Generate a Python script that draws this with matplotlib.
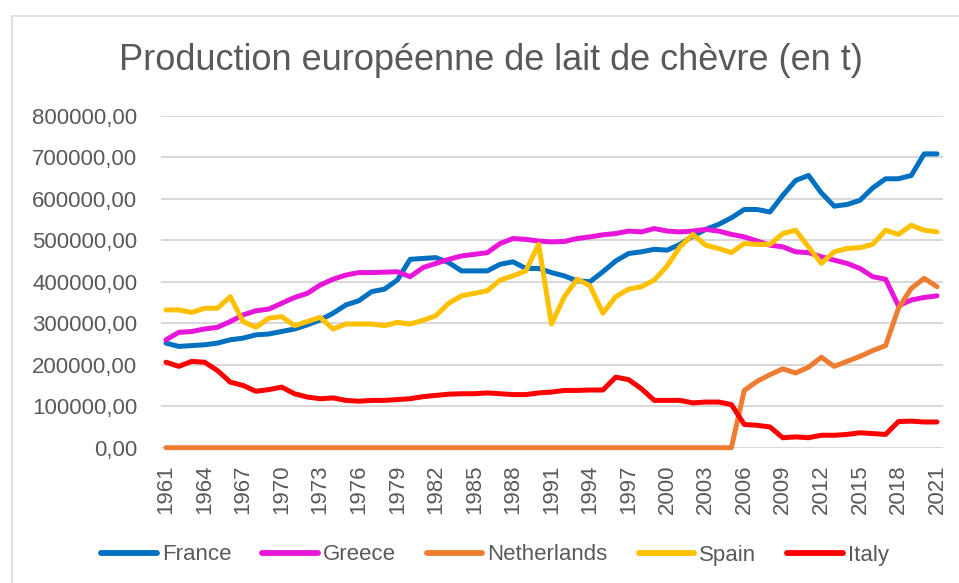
import numpy as np
import matplotlib
matplotlib.use("Agg")
import matplotlib.pyplot as plt
from matplotlib.patches import Rectangle
from matplotlib.ticker import FuncFormatter

plt.rcParams['font.family'] = ['Liberation Sans', 'DejaVu Sans']

years = list(range(1961, 2022))

# valeurs en milliers de tonnes
france = [252, 244, 246, 248, 252, 260, 264, 272, 274, 280,
          286, 296, 308, 324, 344, 354, 376, 382, 404, 454,
          456, 458, 446, 426, 426, 426, 442, 448, 432, 432,
          422, 414, 402, 400, 424, 450, 468, 472, 478, 476,
          490, 510, 526, 538, 554, 574, 574, 568, 608, 644,
          656, 614, 582, 586, 596, 626, 648, 648, 656, 708, 708]
greece = [260, 278, 280, 286, 290, 304, 320, 330, 334, 348,
          362, 372, 392, 406, 416, 422, 422, 423, 424, 412,
          434, 444, 454, 462, 466, 470, 492, 504, 502, 498,
          496, 497, 504, 508, 513, 516, 522, 520, 528, 522,
          520, 522, 526, 522, 514, 508, 498, 488, 484, 472,
          470, 460, 452, 444, 432, 412, 406, 342, 356, 362, 366]
netherlands = [0] * 45 + [138, 160, 176, 190, 180, 194, 218, 196, 208, 220,
                          234, 246, 336, 384, 408, 388]
spain = [332, 332, 326, 336, 336, 364, 304, 290, 312, 316,
         294, 304, 314, 286, 298, 298, 298, 294, 302, 298,
         307, 318, 348, 366, 372, 378, 404, 414, 426, 490,
         298, 364, 406, 390, 324, 364, 382, 388, 404, 438,
         484, 514, 488, 480, 470, 492, 490, 490, 516, 524,
         484, 444, 472, 480, 482, 490, 524, 514, 536, 524, 520]
italy = [206, 196, 208, 206, 186, 158, 150, 136, 140, 146,
         130, 122, 118, 120, 114, 112, 114, 114, 116, 118,
         123, 126, 129, 130, 130, 132, 130, 128, 128, 132,
         134, 138, 138, 139, 139, 170, 164, 142, 114, 114,
         114, 108, 110, 110, 104, 56, 54, 50, 24, 26,
         24, 30, 30, 32, 36, 34, 32, 63, 64, 62, 62]

series = [("France", france, "#0070C0"),
          ("Greece", greece, "#E815DA"),
          ("Netherlands", netherlands, "#ED7D31"),
          ("Spain", spain, "#FFC000"),
          ("Italy", italy, "#FF0000")]

W, H = 959, 583
fig = plt.figure(figsize=(W / 100, H / 100), dpi=100)
ax = fig.add_axes([161 / W, 1 - 447.7 / H, (943 - 161) / W, (447.7 - 115.7) / H])

txt = "#595959"
grid = "#D9D9D9"

for name, vals, col in series:
    ax.plot(years, np.array(vals) * 1000, color=col, lw=3.6, label=name,
            solid_capstyle="round", solid_joinstyle="round", clip_on=False)

ax.set_xlim(1961 - 5 / 12.85, 2021 + 6 / 12.85)
ax.set_ylim(0, 800000)
ax.set_yticks(np.arange(0, 800001, 100000))
ax.yaxis.set_major_formatter(FuncFormatter(lambda v, p: f"{v:.2f}".replace(".", ",")))
ax.set_xticks(years[::3])
ax.set_xticklabels([str(y) for y in years[::3]], rotation=90)
ax.grid(axis="y", color=grid, lw=1.5)
ax.set_axisbelow(True)
for s in ax.spines.values():
    s.set_visible(False)
ax.tick_params(axis="both", length=0, labelsize=16, labelcolor=txt)
ax.tick_params(axis="y", pad=17)
ax.tick_params(axis="x", pad=12)

fig.text(491 / W, 1 - 60 / H, "Production européenne de lait de chèvre (en t)",
         ha="center", va="center", fontsize=26, color=txt)

leg = fig.legend(loc="center", bbox_to_anchor=(495 / W, 1 - 555 / H), ncol=5,
                 frameon=False, fontsize=16, handlelength=2.5, handletextpad=0.22,
                 columnspacing=1.4, labelcolor=txt)
for h in leg.legend_handles:
    h.set_linewidth(4.2)
    h.set_solid_capstyle("round")

fig.patches.append(Rectangle((12 / W, -0.1), 1.2, 1.1 - 16 / H, transform=fig.transFigure,
                             fill=False, ec=grid, lw=1.2))

fig.savefig("out.png", dpi=100)
